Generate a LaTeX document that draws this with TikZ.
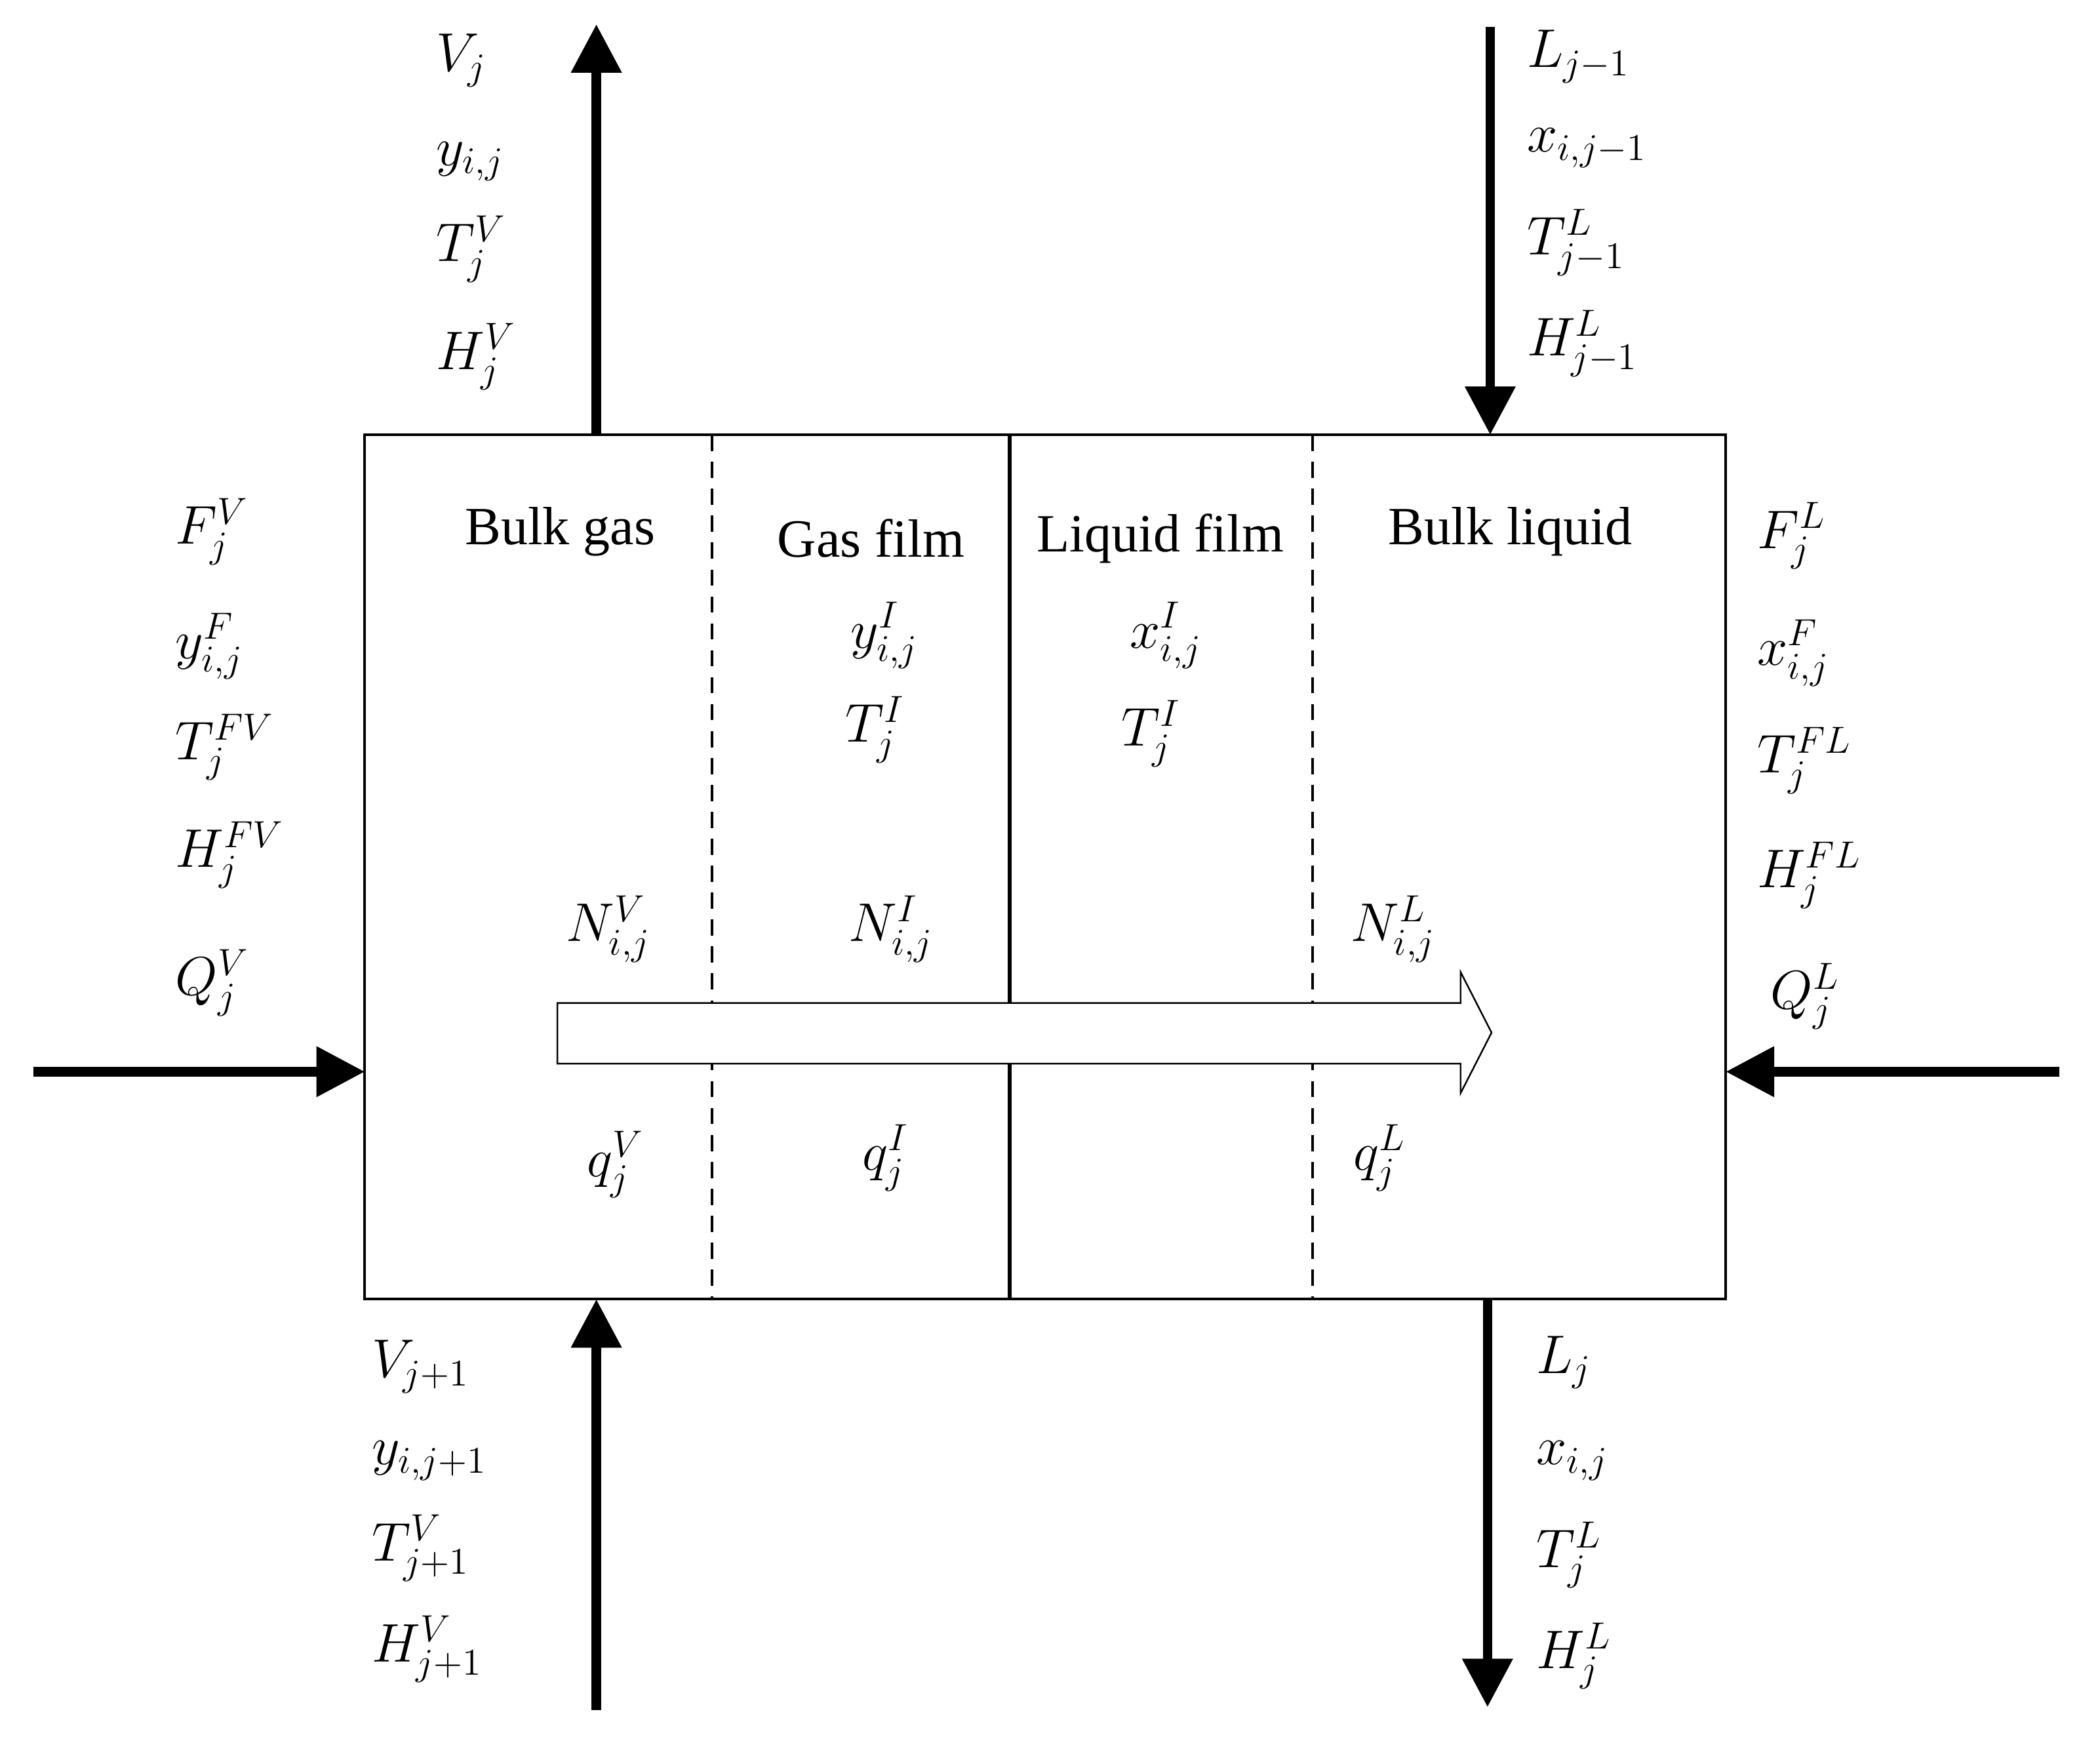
\documentclass[tikz,border=0pt]{standalone}
\usepackage{fontspec}
\setmainfont{Liberation Serif}
\usetikzlibrary{arrows.meta}
\begin{document}
\begin{tikzpicture}[x=1pt,y=-1pt,
 lab/.style={anchor=west,font=\huge,scale=1.95,transform shape,inner sep=1pt},
 ctr/.style={font=\huge,scale=1.95,transform shape,inner sep=1pt},
 txt/.style={font=\fontsize{40}{48}\selectfont},
 big/.style={line width=7pt,-{Triangle[length=36pt,width=36pt]}}]
\useasboundingbox (0,0) rectangle (1560,1304);
\coordinate (bl) at (271,323); \coordinate (br) at (1282,965);
\draw[line width=2pt] (bl) rectangle (br);
\coordinate (d1t) at (529,323); \coordinate (d1b) at (529,965);
\coordinate (st) at (750,323); \coordinate (sb) at (750,965);
\coordinate (d2t) at (975,323); \coordinate (d2b) at (975,965);
\draw[line width=2pt,dash pattern=on 12pt off 8pt] (d1t)--(d1b) (d2t)--(d2b);
\draw[line width=3pt] (st)--(sb);
\draw[line width=1.2pt,fill=white] (414,745)--(1085,745)--(1085,722)--(1108,767)--(1085,812)--(1085,790)--(414,790)--cycle;
\coordinate (a1) at (443,323); \coordinate (a1e) at (443,18);
\coordinate (a2) at (1107,20); \coordinate (a2e) at (1107,323);
\coordinate (a3) at (25,796); \coordinate (a3e) at (271,796);
\coordinate (a4) at (1530,796); \coordinate (a4e) at (1282,796);
\coordinate (a5) at (443,1270); \coordinate (a5e) at (443,965);
\coordinate (a6) at (1105,965); \coordinate (a6e) at (1105,1268);
\foreach \s/\e in {a1/a1e,a2/a2e,a3/a3e,a4/a4e,a5/a5e,a6/a6e} \draw[big] (\s)--(\e);
\node[lab] (t1) at (322,45) {$V_j$};
\node[lab] (t2) at (322,120) {$y_{i,j}$};
\node[lab] (t3) at (322,185) {$T_j^V$};
\node[lab] (t4) at (322,265) {$H_j^V$};
\node[lab] (r1) at (1132,42) {$L_{j-1}$};
\node[lab] (r2) at (1132,110) {$x_{i,j-1}$};
\node[lab] (r3) at (1132,180) {$T_{j-1}^L$};
\node[lab] (r4) at (1132,255) {$H_{j-1}^L$};
\node[lab] (l1) at (128,395) {$F_j^V$};
\node[lab] (l2) at (128,480) {$y_{i,j}^F$};
\node[lab] (l3) at (128,555) {$T_j^{FV}$};
\node[lab] (l4) at (128,635) {$H_j^{FV}$};
\node[lab] (l5) at (128,730) {$Q_j^V$};
\node[lab] (m1) at (1303,398) {$F_j^L$};
\node[lab] (m2) at (1303,485) {$x_{i,j}^F$};
\node[lab] (m3) at (1303,565) {$T_j^{FL}$};
\node[lab] (m4) at (1303,650) {$H_j^{FL}$};
\node[lab] (m5) at (1313,740) {$Q_j^L$};
\node[lab] (b1) at (274,1015) {$V_{j+1}$};
\node[lab] (b2) at (274,1085) {$y_{i,j+1}$};
\node[lab] (b3) at (274,1150) {$T_{j+1}^V$};
\node[lab] (b4) at (274,1225) {$H_{j+1}^V$};
\node[lab] (c1) at (1139,1012) {$L_j$};
\node[lab] (c2) at (1139,1085) {$x_{i,j}$};
\node[lab] (c3) at (1139,1155) {$T_j^L$};
\node[lab] (c4) at (1139,1230) {$H_j^L$};
\node[txt] (z1) at (416,395) {Bulk gas};
\node[txt] (z2) at (647,400) {Gas film};
\node[txt] (z3) at (862,400) {Liquid film};
\node[txt] (z4) at (1122,395) {Bulk liquid};
\node[ctr] (i1) at (657,472) {$y^I_{i,j}$};
\node[ctr] (i2) at (650,542) {$T^I_j$};
\node[ctr] (i3) at (866,472) {$x^I_{i,j}$};
\node[ctr] (i4) at (855,545) {$T^I_j$};
\node[ctr] (n1) at (452,690) {$N^V_{i,j}$};
\node[ctr] (n2) at (662,690) {$N^I_{i,j}$};
\node[ctr] (n3) at (1035,690) {$N^L_{i,j}$};
\node[ctr] (q1) at (457,865) {$q^V_j$};
\node[ctr] (q2) at (658,860) {$q^I_j$};
\node[ctr] (q3) at (1025,860) {$q^L_j$};
\end{tikzpicture}
\end{document}
